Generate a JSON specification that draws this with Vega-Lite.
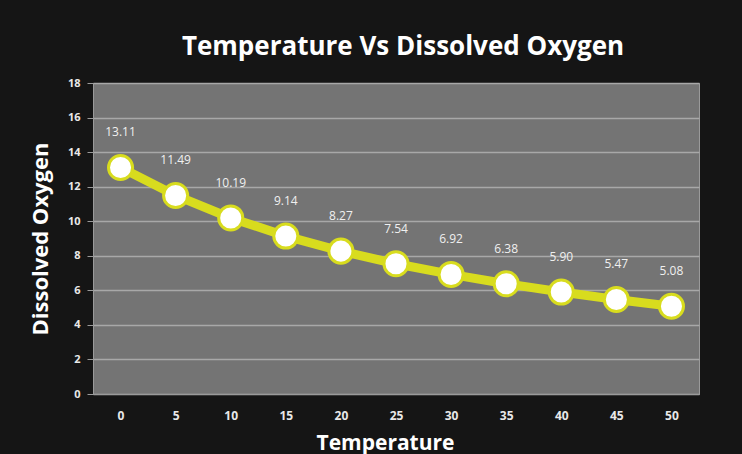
{
  "$schema": "https://vega.github.io/schema/vega-lite/v6.json",
  "width": 606,
  "height": 311,
  "autosize": {"type": "none"},
  "padding": {"left": 93, "top": 83, "right": 43, "bottom": 60},
  "background": "#151515",
  "title": {
    "text": "Temperature Vs Dissolved Oxygen",
    "color": "#ffffff",
    "font": "Open Sans",
    "fontWeight": "bold",
    "fontSize": 26,
    "offset": 17,
    "dx": 7
  },
  "config": {
    "view": {"fill": "#747474", "stroke": "#9a9a9a", "strokeWidth": 1}
  },
  "data": {
    "values": [
      {"Temperature": 0, "DO": 13.11},
      {"Temperature": 5, "DO": 11.49},
      {"Temperature": 10, "DO": 10.19},
      {"Temperature": 15, "DO": 9.14},
      {"Temperature": 20, "DO": 8.27},
      {"Temperature": 25, "DO": 7.54},
      {"Temperature": 30, "DO": 6.92},
      {"Temperature": 35, "DO": 6.38},
      {"Temperature": 40, "DO": 5.90},
      {"Temperature": 45, "DO": 5.47},
      {"Temperature": 50, "DO": 5.08}
    ]
  },
  "encoding": {
    "x": {
      "field": "Temperature",
      "type": "ordinal",
      "scale": {"paddingInner": 0, "paddingOuter": 0},
      "axis": {
        "title": "Temperature",
        "labelAngle": 0,
        "labelColor": "#e8e8e8",
        "labelFont": "Open Sans",
        "labelFontSize": 12,
        "labelFontWeight": "bold",
        "labelPadding": 16,
        "ticks": false,
        "domainColor": "#9a9a9a",
        "titleColor": "#ffffff",
        "titleFont": "Open Sans",
        "titleFontSize": 21,
        "titleFontWeight": "bold",
        "titleY": 49,
        "titleBaseline": "middle",
        "titleX": 292
      }
    },
    "y": {
      "field": "DO",
      "type": "quantitative",
      "scale": {"domain": [0, 18], "nice": false},
      "axis": {
        "title": "Dissolved Oxygen",
        "values": [0, 2, 4, 6, 8, 10, 12, 14, 16, 18],
        "labelColor": "#e8e8e8",
        "labelFont": "Open Sans",
        "labelFontSize": 11,
        "labelFontWeight": "bold",
        "labelPadding": 7,
        "tickColor": "#9a9a9a",
        "tickSize": 6,
        "domainColor": "#9a9a9a",
        "gridColor": "#a8a8a8",
        "gridWidth": 1.5,
        "titleColor": "#ffffff",
        "titleFont": "Open Sans",
        "titleFontSize": 22,
        "titleFontWeight": "bold",
        "titleX": -53,
        "titleBaseline": "middle"
      }
    }
  },
  "layer": [
    {"mark": {"type": "line", "color": "#d8dc1e", "strokeWidth": 9}},
    {
      "mark": {
        "type": "point",
        "filled": true,
        "fill": "#ffffff",
        "stroke": "#d8dc1e",
        "strokeWidth": 3,
        "opacity": 1,
        "size": 580
      }
    },
    {
      "mark": {
        "type": "text",
        "dy": -35,
        "color": "#f0f0f0",
        "font": "Open Sans",
        "fontSize": 12,
        "baseline": "middle"
      },
      "encoding": {"text": {"field": "DO", "type": "quantitative", "format": ".2f"}}
    }
  ]
}
